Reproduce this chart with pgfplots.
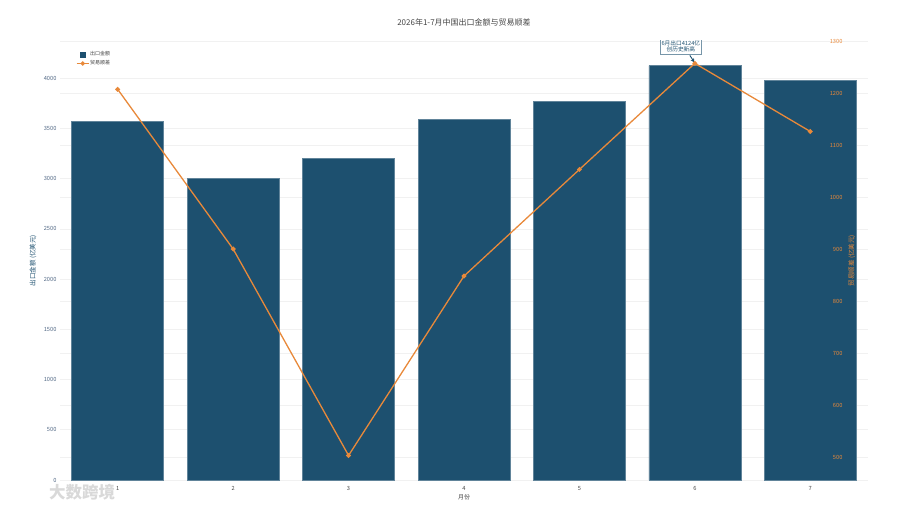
\documentclass[border=0pt]{standalone}
\usepackage{fontspec}
\setmainfont{Noto Sans CJK SC}
\usepackage{pgfplots}
\pgfplotsset{compat=1.18}
\usetikzlibrary{arrows.meta}
\definecolor{barblue}{HTML}{1D506F}
\definecolor{lineorange}{HTML}{E8893A}
\definecolor{ticktext}{HTML}{506784}
\definecolor{gridc}{HTML}{F1F1F1}
\definecolor{titlec}{HTML}{444444}
\pgfplotsset{
  base/.style={
    at={(60pt,29pt)}, anchor=south west, scale only axis,
    width=808pt, height=439pt,
    xmin=0.5, xmax=7.5,
    axis line style={draw=none},
    major tick length=0pt, tick style={draw=none},
    /pgf/number format/assume math mode=true,
    /pgf/number format/1000 sep={},
    grid style={gridc, line width=0.6pt},
  }
}
\begin{document}
\begin{tikzpicture}
\useasboundingbox (0,0) rectangle (900pt,509pt);
% grid of the right-hand scale, behind the bars
\begin{axis}[base, ymin=455.8, ymax=1300, ytick={500,600,...,1300},
  ymajorgrids, xtick=\empty, yticklabels={}]
\addplot[draw=none] coordinates {(1,500)};
\end{axis}
% bars, left scale
\begin{axis}[base, ymin=0, ymax=4370, ytick={0,500,...,4000},
  ymajorgrids, xtick={1,2,3,4,5,6,7},
  ticklabel style={font=\fontsize{5.7}{6}\selectfont},
  yticklabel style={text=ticktext},
  xticklabel style={text=titlec, yshift=-3pt},
  xlabel={月份}, ylabel={出口金额 (亿美元)},
  xlabel style={at={(axis description cs:0.5,0)}, anchor=center, yshift=-17pt,
    font=\fontsize{6}{7}\selectfont, text=titlec},
  ylabel style={at={(axis description cs:-0.0334,0.5)}, anchor=center,
    font=\fontsize{6.5}{7}\selectfont, text=barblue},
  title={2026年1-7月中国出口金额与贸易顺差},
  title style={at={(axis description cs:0.5,1)}, anchor=center, yshift=13pt,
    font=\fontsize{8}{9}\selectfont, text=titlec},
  ]
\addplot[ybar, bar width=92pt, fill=barblue, draw=barblue!70!white, line width=0.5pt]
  coordinates {(1,3567) (2,3000) (3,3205) (4,3590) (5,3766) (6,4124) (7,3979)};
\end{axis}
% line, right scale
\begin{axis}[base, ymin=455.8, ymax=1300, ytick={500,600,...,1300},
  axis y line*=right, axis x line=none, xtick=\empty,
  yticklabel style={anchor=east, xshift=-22pt, text=lineorange,
    font=\fontsize{5.7}{6}\selectfont},
  ylabel={贸易顺差 (亿美元)},
  every axis y label/.style={at={(axis description cs:0.980,0.5)}, anchor=center,
    rotate=90, font=\fontsize{6.5}{7}\selectfont, text=lineorange},
  legend style={at={(axis description cs:0.0198,0.979)}, anchor=north west,
    draw=none, fill=none, font=\fontsize{5}{5.5}\selectfont, text=titlec,
    row sep=1.5pt, inner sep=0pt,
    nodes={inner sep=1pt}},
  legend cell align=left,
  ]
\addlegendimage{legend image code/.code={\fill[barblue] (3.5pt,-2.5pt) rectangle (8.5pt,2.5pt);}}
\addlegendentry{出口金额}
\addplot[lineorange, line width=1.3pt, mark=*, mark size=1.7pt,
  mark options={fill=lineorange, draw=lineorange},
  legend image code/.code={\draw[lineorange, line width=1pt] (0pt,0pt) -- (12pt,0pt);
    \fill[lineorange] (6pt,0pt) circle (1.5pt);}]
  coordinates {(1,1207) (2,900) (3,503) (4,848) (5,1053) (6,1257) (7,1126)};
\addlegendentry{贸易顺差}
\node[draw=barblue!60!white, fill=white, line width=0.5pt, align=center,
  inner xsep=1.5pt, inner ysep=1.5pt, font=\fontsize{5.7}{6.8}\selectfont, text=barblue]
  at ([xshift=-14pt,yshift=17pt]axis cs:6,1257) {6月出口4124亿\\创历史新高};
\draw[barblue, line width=0.9pt, -{Stealth[length=4pt,width=4pt]}]
  ([xshift=-5pt,yshift=8pt]axis cs:6,1257) -- ([xshift=-0.5pt,yshift=1pt]axis cs:6,1257);
\end{axis}
\node[text=gray!30, font=\fontsize{16.5}{17}\selectfont\bfseries] at (82pt,17pt) {大数跨境};
\end{tikzpicture}
\end{document}
